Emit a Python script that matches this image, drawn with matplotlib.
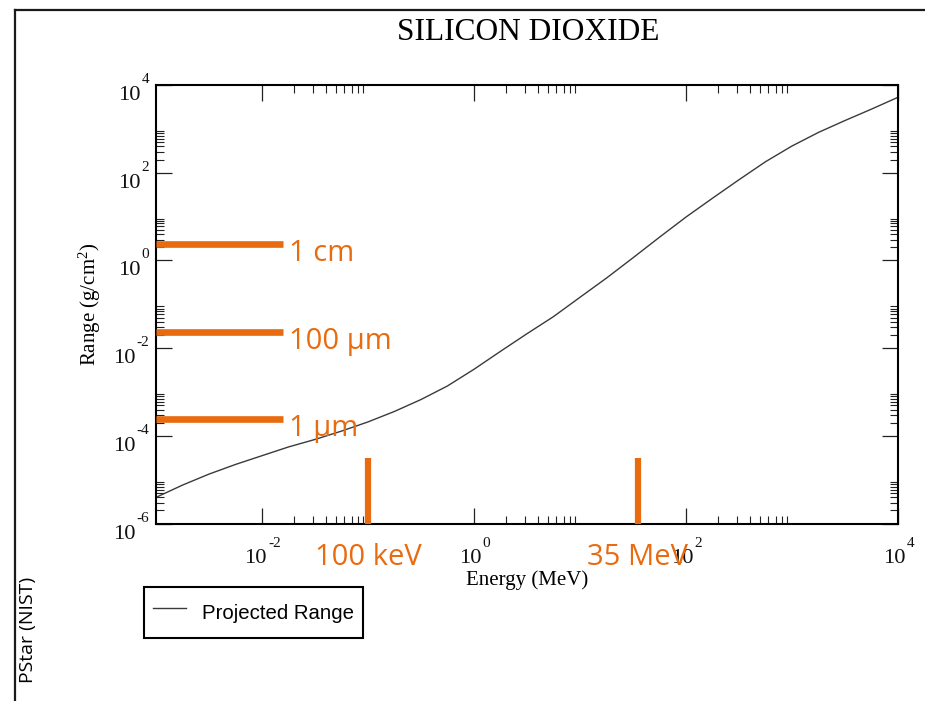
import matplotlib
matplotlib.use('Agg')
import matplotlib.pyplot as plt
from matplotlib.lines import Line2D
from matplotlib.transforms import blended_transform_factory

# Proton projected range in silicon dioxide (PSTAR)
energy_mev = [1.0e-3, 1.78e-3, 3.16e-3, 5.62e-3, 0.01, 0.0178, 0.0316,
              0.0562, 0.1, 0.178, 0.316, 0.562, 1.0, 1.78, 3.16, 5.62, 10.0,
              17.8, 31.6, 56.2, 100.0, 178.0, 316.0, 562.0, 1000.0, 1780.0,
              3160.0, 5620.0, 10000.0]
range_gcm2 = [3.98e-6, 7.59e-6, 1.35e-5, 2.24e-5, 3.55e-5, 5.62e-5, 8.32e-5,
              1.29e-4, 2.09e-4, 3.63e-4, 6.76e-4, 1.38e-3, 3.31e-3, 8.51e-3,
              2.14e-2, 5.25e-2, 0.145, 0.398, 1.15, 3.39, 9.77, 26.3, 69.2,
              178.0, 407.0, 832.0, 1549.0, 2818.0, 5248.0]

# depth markers (areal density) and energy markers
depth_values = [2.4, 2.4e-2, 2.4e-4]
depth_labels = ['1 cm', '100 µm', '1 µm']
energy_marks = [0.1, 35.0]
energy_labels = ['100 keV', '35 MeV']

x_major_exp = [-2, 0, 2, 4]
y_major_exp = [-6, -4, -2, 0, 2, 4]

ORANGE = '#E96B10'
SERIF = 'Liberation Serif'
depth_bar_end = 0.0157
energy_bar_top = 3.1e-5

plt.rcParams['mathtext.fontset'] = 'custom'
plt.rcParams['mathtext.rm'] = SERIF
plt.rcParams['mathtext.it'] = SERIF + ':italic'

fig = plt.figure(figsize=(9.25, 7.01), dpi=100)
ax = fig.add_axes([156 / 925, 1 - 523.7 / 701, 742 / 925, 438.7 / 701])
ax.set_xscale('log')
ax.set_yscale('log')
ax.set_xlim(1e-3, 1e4)
ax.set_ylim(1e-6, 1e4)

ax.plot(energy_mev, range_gcm2, color='#3a3a3a', lw=1.0, label='Projected Range')

# grace-style ticks: majors every two decades, minors 2..9 x major
xmaj = [10.0 ** e for e in x_major_exp]
ymaj = [10.0 ** e for e in y_major_exp]
ax.set_xticks(xmaj)
ax.set_yticks(ymaj)
ax.set_xticks([k * m for m in xmaj for k in range(2, 10) if k * m < 1e4], minor=True)
ax.set_yticks([k * m for m in ymaj for k in range(2, 10) if k * m < 1e4], minor=True)
ax.tick_params(which='both', direction='in', top=True, right=True,
               labelbottom=False, labelleft=False, color='#222222')
ax.tick_params(which='major', length=11.5, width=0.9)
ax.tick_params(which='minor', length=5.5, width=0.8)
for s in ax.spines.values():
    s.set_linewidth(1.5)


def exp_width(exp):
    return 7.5 * len(exp.replace('-', '')) + 5 * exp.count('-')


base_font = dict(family=SERIF, fontsize=16.2, va='baseline', color='#111111')
exp_font = dict(family=SERIF, fontsize=11, va='baseline', color='#111111')

bx = blended_transform_factory(ax.transData, ax.transAxes)
for e, m in zip(x_major_exp, xmaj):
    exp = str(e)
    left = -(23 + exp_width(exp)) / 2
    ax.annotate('10', xy=(m, 0), xycoords=bx, xytext=(left, -39),
                textcoords='offset pixels', ha='left', **base_font)
    ax.annotate(exp, xy=(m, 0), xycoords=bx, xytext=(left + 24, -23),
                textcoords='offset pixels', ha='left', **exp_font)

by = blended_transform_factory(ax.transAxes, ax.transData)
for e, m in zip(y_major_exp, ymaj):
    exp = str(e)
    ax.annotate(exp, xy=(0, m), xycoords=by, xytext=(-7, 2),
                textcoords='offset pixels', ha='right', **exp_font)
    ax.annotate('10', xy=(0, m), xycoords=by, xytext=(-8 - exp_width(exp), -15),
                textcoords='offset pixels', ha='right', **base_font)

ax.set_xlabel('Energy (MeV)', family=SERIF, fontsize=15)
ax.xaxis.set_label_coords(0.5, -0.1055)
ax.set_ylabel('Range (g/cm$^2$)', family=SERIF, fontsize=15)
ax.yaxis.label.set_va('center')
ax.yaxis.set_label_coords(-0.0895, 0.5)

# orange markers
for v, lbl in zip(depth_values, depth_labels):
    ax.plot([1e-3, depth_bar_end], [v, v], color=ORANGE, lw=4.8,
            solid_capstyle='butt', clip_on=False, zorder=4)
    ax.annotate(lbl, xy=(depth_bar_end, v), xytext=(6.7, -17),
                textcoords='offset pixels', ha='left', va='baseline',
                color=ORANGE, family='Open Sans', fontsize=21, zorder=5)

for en, lbl in zip(energy_marks, energy_labels):
    ax.plot([en, en], [1e-6, energy_bar_top], color=ORANGE, lw=4.5,
            solid_capstyle='butt', clip_on=False, zorder=4)
    ax.annotate(lbl, xy=(en, 1e-6), xytext=(0, -41),
                textcoords='offset pixels', ha='center', va='baseline',
                color=ORANGE, family='Open Sans', fontsize=21, zorder=5)

leg = ax.legend(loc='upper left', bbox_to_anchor=(144 / 925, 1 - 587 / 701),
                bbox_transform=fig.transFigure, frameon=True, fancybox=False,
                edgecolor='black', framealpha=1,
                prop={'family': 'Liberation Sans', 'size': 14.7},
                handlelength=1.6, handletextpad=0.8, borderpad=0.45,
                borderaxespad=0, handleheight=2.1)
leg.get_frame().set_linewidth(1.5)

fig.text(528.5 / 925, 1 - 40 / 701, 'SILICON DIOXIDE', ha='center',
         va='baseline', family=SERIF, fontsize=22.6)
fig.text(28 / 925, 1 - 630 / 701, 'PStar (NIST)', rotation=90, ha='center',
         va='center', family='Open Sans', fontsize=14)

# outer frame
fig.add_artist(Line2D([15.5 / 925, 15.5 / 925], [0, 1 - 9.5 / 701],
                      transform=fig.transFigure, color='#1a1a1a', lw=1.6))
fig.add_artist(Line2D([15.5 / 925, 1], [1 - 9.5 / 701, 1 - 9.5 / 701],
                      transform=fig.transFigure, color='#1a1a1a', lw=1.6))

plt.savefig('out.png', dpi=100)
